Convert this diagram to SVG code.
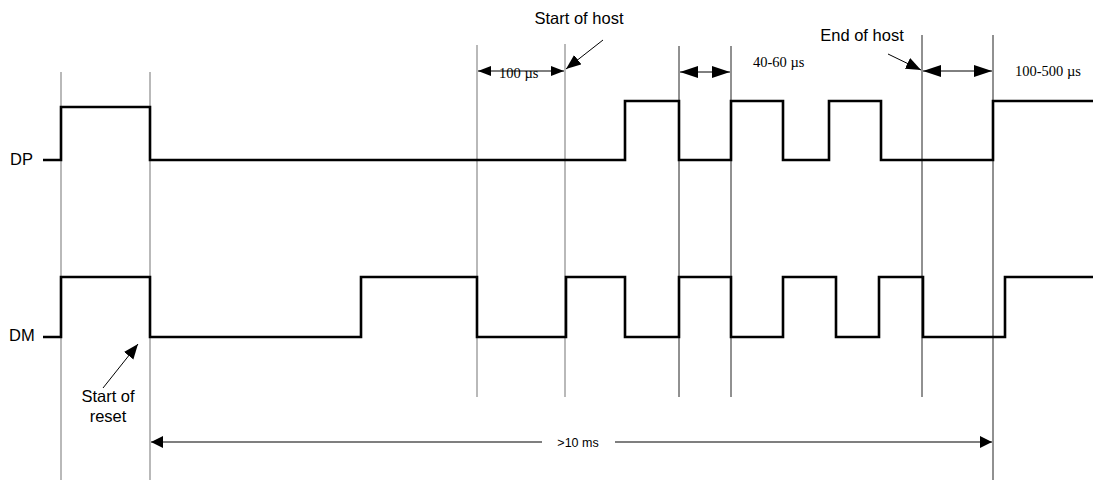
<svg xmlns="http://www.w3.org/2000/svg" width="1093" height="480" viewBox="0 0 1093 480">
<style>
.wave{fill:none;stroke:#000;stroke-width:2.6;stroke-linejoin:miter}
.vg{stroke:#8a8a8a;stroke-width:1.2}
.vd{stroke:#222;stroke-width:1}
.dim{stroke:#000;stroke-width:1;fill:none}
.lbl{font-family:"Liberation Sans",Arial,sans-serif;font-size:16.5px;fill:#000}
.ser{font-family:"Liberation Serif","Times New Roman",serif;font-size:14.5px;fill:#000}
.sm{font-family:"Liberation Sans",Arial,sans-serif;font-size:12.5px;fill:#000}
</style>
<defs>
<marker id="ah" markerUnits="userSpaceOnUse" markerWidth="20" markerHeight="14" refX="18" refY="6" orient="auto-start-reverse">
<path d="M0,0 L18,6 L0,12 Z" fill="#000"/>
</marker>
<marker id="ahs" markerUnits="userSpaceOnUse" markerWidth="16" markerHeight="12" refX="13" refY="5" orient="auto-start-reverse">
<path d="M0,0 L13,5 L0,10 Z" fill="#000"/>
</marker>
<marker id="ahp" markerUnits="userSpaceOnUse" markerWidth="18" markerHeight="14" refX="15" refY="6" orient="auto">
<path d="M0,0 L15,6 L0,12 Z" fill="#000"/>
</marker>
</defs>

<g id="gridlines">
<line class="vg" x1="61" y1="72" x2="61" y2="480"/>
<line class="vg" x1="150" y1="72" x2="150" y2="480"/>
<line class="vg" x1="477" y1="45" x2="477" y2="397"/>
<line class="vg" x1="565" y1="44" x2="565" y2="397"/>
<line class="vd" x1="679" y1="46" x2="679" y2="397"/>
<line class="vd" x1="731" y1="46" x2="731" y2="397"/>
<line class="vd" x1="922" y1="35" x2="922" y2="397"/>
<line class="vd" x1="993" y1="35" x2="993" y2="480"/>
</g>

<g id="DP">
<text class="lbl" x="10" y="165">DP</text>
<path class="wave" d="M43,160 H61 V107 H150 V160 H625 V101 H679 V160 H731 V101 H783 V160 H829 V101 H881 V160 H993 V101 H1093"/>
</g>

<g id="DM">
<text class="lbl" x="9" y="341">DM</text>
<path class="wave" d="M43,337 H61 V277 H150 V337 H361 V277 H477 V337 H566 V277 H625 V337 H679 V277 H731 V337 H783 V277 H836 V337 H879 V277 H923 V337 H1005 V277 H1093"/>
</g>

<g id="start-of-reset">
<text class="lbl" x="108" y="402" text-anchor="middle">Start of</text>
<text class="lbl" x="108" y="422" text-anchor="middle">reset</text>
</g>

<g id="start-of-host">
<text class="lbl" x="579" y="24" text-anchor="middle">Start of host</text>
</g>

<g id="end-of-host">
<text class="lbl" x="862" y="41" text-anchor="middle">End of host</text>
</g>

<g id="dimension-labels">
<text class="ser" x="499" y="78">100 µs</text>
<text class="ser" x="753" y="67">40-60 µs</text>
<text class="ser" x="1015" y="76">100-500 µs</text>
<text class="sm" x="578" y="447" text-anchor="middle">&gt;10 ms</text>
</g>

<g id="connectors">
<line class="dim" x1="103" y1="388" x2="138" y2="344" marker-end="url(#ahp)"/>
<line class="dim" x1="603" y1="40" x2="566" y2="69" marker-end="url(#ahp)"/>
<line class="dim" x1="888" y1="54" x2="921" y2="70" marker-end="url(#ahp)"/>
<line class="dim" x1="478" y1="71" x2="564" y2="71" marker-start="url(#ahs)" marker-end="url(#ahs)"/>
<line class="dim" x1="680" y1="72" x2="730" y2="72" marker-start="url(#ah)" marker-end="url(#ah)"/>
<line class="dim" x1="923" y1="71" x2="992" y2="71" marker-start="url(#ah)" marker-end="url(#ah)"/>
<path d="M151,442 H542 M615,442 H992" stroke="#555" stroke-width="1.5" fill="none"/>
<path d="M151,442 L163,436 L163,448 Z M992,442 L980,436 L980,448 Z" fill="#000"/>
</g>
</svg>
